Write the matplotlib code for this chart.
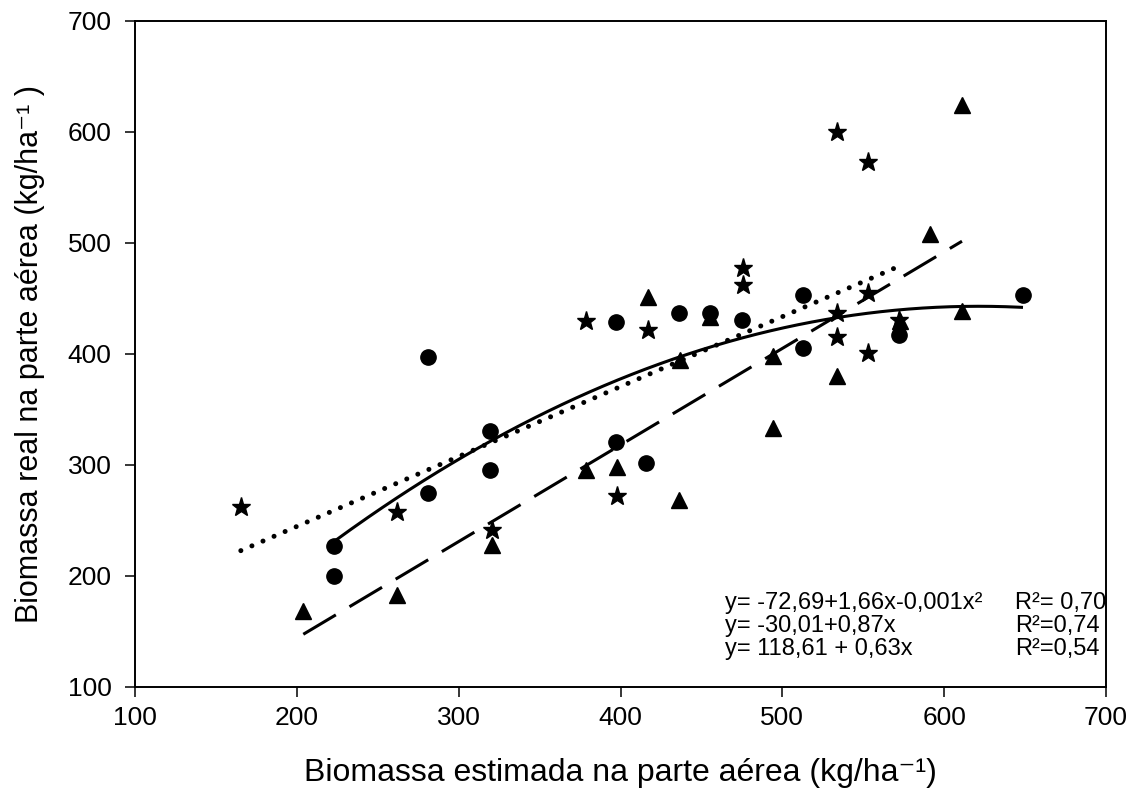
import matplotlib.pyplot as plt
import numpy as np

plt.rcParams['font.family'] = ['Liberation Sans', 'DejaVu Sans']

# Circles
circ_x = [222.7, 222.7, 281, 281, 319.5, 319.5, 397, 397, 416, 436, 455, 475, 513, 513, 572, 648.7]
circ_y = [227, 200, 397, 274.5, 331, 295.5, 429, 321, 301.5, 437, 436.7, 431, 453, 405, 417, 453]

# Stars
star_x = [165.4, 262, 320.5, 378.5, 398, 417, 475.4, 475.4, 533.6, 552.7, 552.7, 533.6, 533.6, 552.7, 572]
star_y = [262.5, 258, 241.4, 430, 272, 422, 477, 462, 600, 573, 454.7, 436.7, 415, 400.6, 431]

# Triangles
tri_x = [204, 262, 320.5, 378.5, 398, 417, 436, 436.6, 455.6, 494, 494, 533.6, 572.4, 591.3, 611, 611]
tri_y = [168, 183, 228, 295.5, 298.5, 451.6, 268, 395, 433.6, 398, 333, 380, 430, 508, 624, 439]

# regression curves (coefficients a, b, c) and x ranges
quad_coef = [-72.69, 1.66, -0.001336]
quad_range = [222.7, 648.7]
lin_tri_coef = [-30.01, 0.87]
lin_tri_range = [204, 611]
lin_star_coef = [118.61, 0.63]
lin_star_range = [165.4, 570]

eq_lines = ['y= -72,69+1,66x-0,001x²', 'y= -30,01+0,87x', 'y= 118,61 + 0,63x']
r2_lines = ['R²= 0,70', 'R²=0,74', 'R²=0,54']

fig = plt.figure(figsize=(11.44, 7.94), dpi=100)
ax = fig.add_axes([0.118, 0.1348, 0.8488, 0.8388])

xq = np.linspace(quad_range[0], quad_range[1], 200)
ax.plot(xq, quad_coef[0] + quad_coef[1] * xq + quad_coef[2] * xq ** 2,
        color='black', lw=2.2, solid_capstyle='butt')

xt = np.linspace(lin_tri_range[0], lin_tri_range[1], 2)
ax.plot(xt, lin_tri_coef[0] + lin_tri_coef[1] * xt, color='black', lw=2.2,
        dashes=(12.4, 5.2), dash_capstyle='butt')

xs = np.linspace(lin_star_range[0], lin_star_range[1], 2)
ax.plot(xs, lin_star_coef[0] + lin_star_coef[1] * xs, color='black', lw=3.6,
        dashes=(0.01, 2.4), dash_capstyle='round')

ax.plot(circ_x, circ_y, 'o', color='black', ms=11, ls='none')
ax.plot(tri_x, tri_y, '^', color='black', ms=12, ls='none')
ax.plot(star_x, star_y, '*', color='black', ms=14, ls='none')

ax.set_xlim(100, 700)
ax.set_ylim(100, 700)
ax.set_xticks(range(100, 701, 100))
ax.set_yticks(range(100, 701, 100))
ax.tick_params(direction='out', length=7, width=1.1, labelsize=19)
ax.tick_params(axis='x', pad=7)
ax.tick_params(axis='y', pad=10)
for s in ax.spines.values():
    s.set_linewidth(1.4)

ax.set_xlabel('Biomassa estimada na parte aérea (kg/ha⁻¹)', fontsize=23, labelpad=20)
ax.set_ylabel('Biomassa real na parte aérea (kg/ha⁻¹ )', fontsize=22, labelpad=16)

eq_y = [170.3, 149.5, 128.8]
for t, r, yy in zip(eq_lines, r2_lines, eq_y):
    ax.text(464.5, yy, t, fontsize=17, va='baseline', ha='left')
    ax.text(644, yy, r, fontsize=17, va='baseline', ha='left')

fig.savefig('out.png', dpi=100)
